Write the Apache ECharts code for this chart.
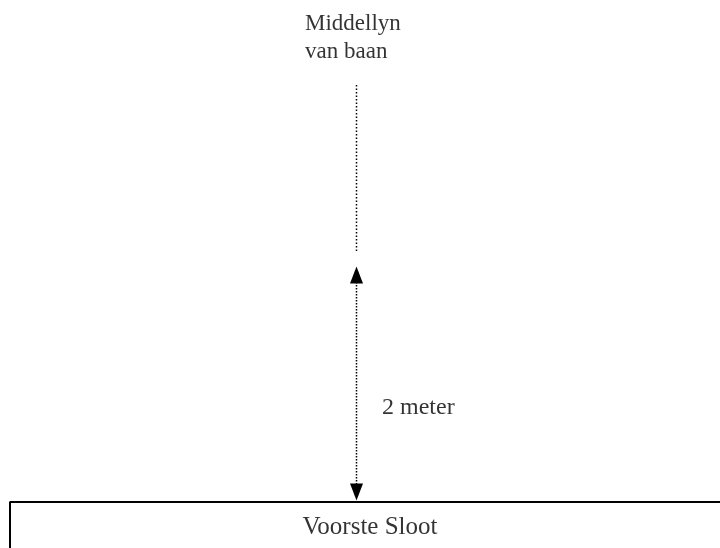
<!DOCTYPE html>
<html>
<head>
<meta charset="utf-8">
<script src="https://cdn.jsdelivr.net/npm/echarts@6/dist/echarts.min.js"></script>
<style>
  html, body { margin: 0; padding: 0; background: #fff; }
  #main { width: 720px; height: 548px; }
</style>
</head>
<body>
<div id="main"></div>
<script>
// diagram in pixel-like units (x: 0..720, y: 0..548 from top)
const centreX = 356.5;
const upperDots = [[centreX, 85], [centreX, 252]];
const measureDots = [[centreX, 282], [centreX, 486]];
const arrowHeads = [[centreX, 275, 0], [centreX, 492, 180]];
const slootEdge = [[10, 560], [10, 502], [730, 502]];
const topLabel = [[305, 38, 'Middellyn\nvan baan']];
const distanceLabel = [[382, 408, '2 meter']];
const slootLabel = [[370, 527, 'Voorste Sloot']];

const font = "'Liberation Serif', 'Times New Roman', serif";
const chart = echarts.init(document.getElementById('main'));

function textSeries(data, size, pos) {
    return {
        type: 'scatter',
        data: data,
        symbolSize: 0,
        label: {
            show: true,
            position: pos,
            distance: 0,
            align: pos === 'right' ? 'left' : 'center',
            formatter: p => p.value[2],
            fontFamily: font,
            fontSize: size,
            lineHeight: 28,
            color: '#000'
        }
    };
}

chart.setOption({
    animation: false,
    backgroundColor: '#fff',
    grid: { left: 0, right: 0, top: 0, bottom: 0 },
    xAxis: { type: 'value', min: 0, max: 720, show: false },
    yAxis: { type: 'value', min: 0, max: 548, inverse: true, show: false },
    series: [
        {
            type: 'line',
            data: upperDots,
            symbol: 'none',
            lineStyle: { color: '#000', width: 1.5, type: [1.5, 2] }
        },
        {
            type: 'line',
            data: measureDots,
            symbol: 'none',
            lineStyle: { color: '#000', width: 1.5, type: [1.5, 1.5] }
        },
        {
            type: 'scatter',
            data: arrowHeads.map(d => ({ value: [d[0], d[1]], symbolRotate: d[2] })),
            symbol: 'triangle',
            symbolSize: [13, 17],
            itemStyle: { color: '#000', opacity: 1 }
        },
        {
            type: 'line',
            data: slootEdge,
            symbol: 'none',
            lineStyle: { color: '#000', width: 2 }
        },
        textSeries(topLabel, 23, 'right'),
        textSeries(distanceLabel, 24, 'right'),
        textSeries(slootLabel, 25, 'inside')
    ]
});
</script>
</body>
</html>
